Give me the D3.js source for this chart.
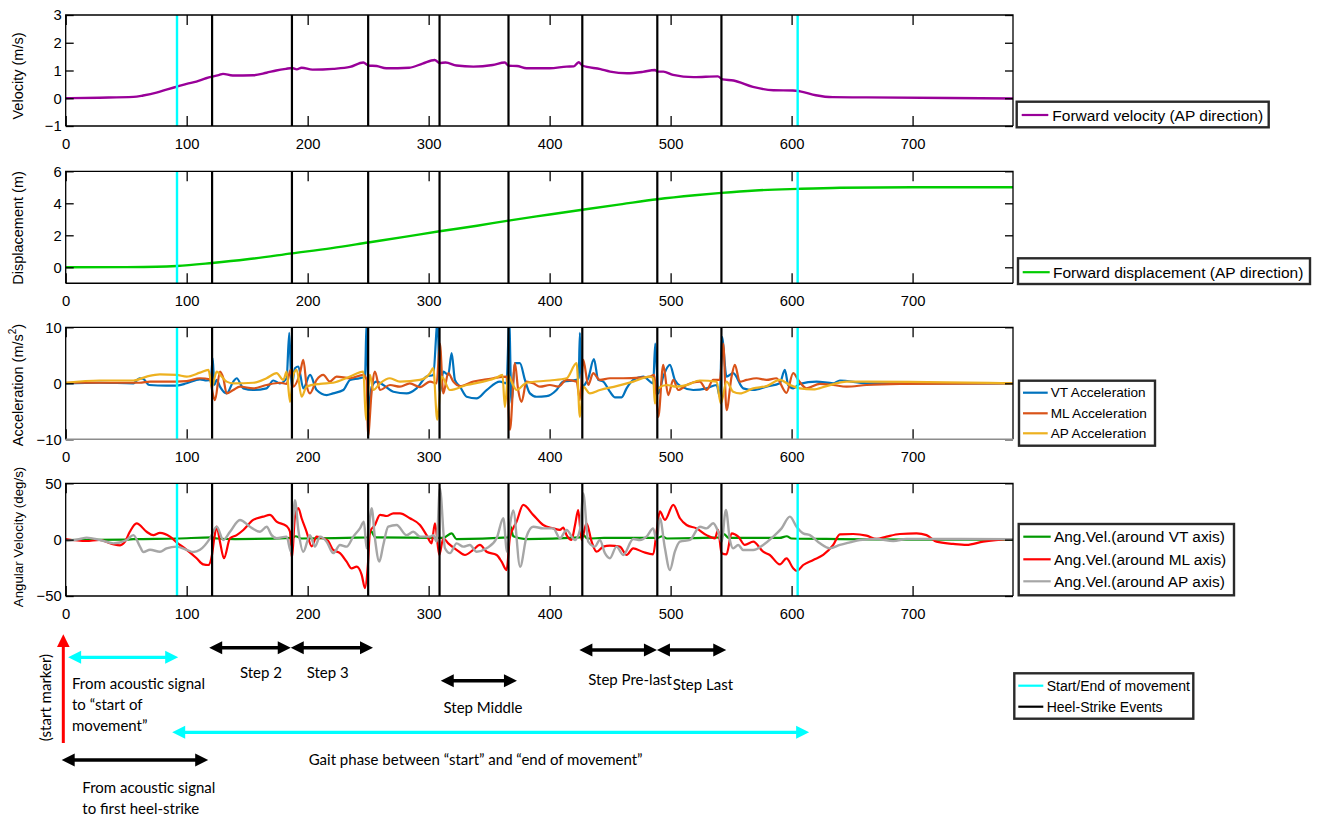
<!DOCTYPE html>
<html><head><meta charset="utf-8">
<script src="https://cdn.jsdelivr.net/npm/d3@7"></script>
<style>
body{margin:0;background:#fff;}
svg{display:block;font-family:"Liberation Sans",Arial,sans-serif;}
</style></head>
<body><svg id="c" width="1319" height="816"></svg>
<script>
// ---------------- DATA ----------------
const xTicks = [0,100,200,300,400,500,600,700];
const xDomain = [0,783];
const startEndEvents = [92,605];
const heelStrikeEvents = [121,187,250,309,366,427,489,542];

const velocityTicks = [-1,0,1,2,3];
const displacementTicks = [0,2,4,6];
const accelerationTicks = [-10,0,10];
const angularTicks = [-50,0,50];

const velocityAP = [[0,0],[28,0.02],[56,0.05],[64,0.1],[75,0.2],[84,0.32],[92,0.42],[100,0.52],[108,0.6],[116,0.72],[121,0.78],[127,0.84],[130,0.88],[138,0.82],[155,0.83],[166,0.92],[174,1.0],[182,1.06],[187,1.09],[191,1.04],[195,1.1],[204,1.03],[221,1.06],[235,1.13],[246,1.29],[250,1.18],[257,1.16],[265,1.08],[284,1.1],[295,1.25],[305,1.38],[309,1.27],[314,1.29],[323,1.18],[337,1.14],[353,1.2],[363,1.29],[366,1.17],[373,1.16],[381,1.08],[400,1.08],[414,1.14],[420,1.15],[424,1.3],[427,1.18],[442,1.05],[450,0.96],[464,0.9],[477,0.95],[487,1.02],[489,0.96],[494,0.96],[502,0.84],[519,0.76],[539,0.79],[543,0.68],[552,0.64],[568,0.41],[585,0.29],[601,0.28],[607,0.25],[620,0.11],[634,0.04],[662,0.03],[783,-0.01]];

const displacementAP = [[0,0],[50,0.01],[75,0.03],[92,0.08],[121,0.27],[150,0.5],[187,0.87],[220,1.2],[250,1.55],[280,1.9],[309,2.25],[340,2.6],[366,2.92],[400,3.3],[427,3.6],[460,3.95],[489,4.25],[520,4.5],[542,4.65],[570,4.8],[605,4.9],[640,4.97],[700,5.0],[783,5.0]];

const accVT = [[0,0],[28,0.1],[56,0],[61,0.9],[64,0.8],[69,-0.3],[83,-0.4],[92,-0.4],[100,0],[111,0.7],[116.5,0.5],[120,0.8],[121.5,4.5],[122.8,-0.3],[124.8,0.6],[127.5,-0.6],[133,-1.8],[138.5,0.3],[141.3,0.9],[146.8,-0.9],[155,-1.2],[166,-0.9],[171.6,0.5],[177,0],[182.6,0.9],[184.8,9],[186.7,-0.6],[189.5,2.7],[192.3,3],[196.4,-0.9],[202,1.5],[207.4,-1.2],[215.7,-2.1],[221,-1.8],[229.5,-1.2],[235,0.6],[243,0.9],[247.4,1.2],[248.7,11],[250.4,-4.8],[252.9,-0.6],[257,0.3],[262.5,-0.3],[270.8,-1.5],[281.8,-1.8],[290,-0.9],[298.3,1.2],[303.8,1.5],[307.4,11],[309.3,-1.8],[312.1,2.1],[316.2,1.5],[319,5.4],[321.7,0.6],[325.9,-0.6],[331.4,-2.4],[339.6,-2.7],[347.9,-1.2],[358.9,0.3],[364.4,0],[366.6,11],[368.5,-3.6],[371.3,3.6],[375.4,3.6],[379.6,0.6],[383.7,-1.8],[389.2,-2.4],[397.5,-2.3],[405.7,-1.2],[411.2,0.3],[422.3,0.6],[424,1],[425,9],[426.4,-0.6],[431.9,0.9],[436.6,4.3],[440.2,0.6],[444.3,0.3],[449.8,-1.5],[453.9,-2.5],[459.5,-2.5],[463.6,-0.9],[469.1,0.6],[477.4,1.2],[485.6,0],[487.3,7.1],[489.8,-1.8],[493.9,1.2],[499.4,3.3],[503.5,0.6],[509,-0.6],[518.7,-1.2],[529.7,-0.9],[538,-0.3],[540.7,-2.4],[542.4,8.3],[546.2,1.2],[551.7,1.8],[560,-0.9],[568.3,-1.2],[579.3,-0.6],[590.3,0],[594.4,2.4],[597.2,-0.3],[601.3,-0.9],[606.8,-0.1],[620.6,0.3],[634.4,0],[639.9,0.5],[661.9,0],[783,0]];

const accML = [[0,0.1],[61,0.1],[69.7,0.3],[83,0.3],[100,0.4],[111,0.9],[119.3,0.7],[121.5,-1.8],[123.4,-3.0],[127.5,2.1],[130.3,0.9],[133,-1.8],[138.5,-1.2],[144,-0.6],[155,-0.9],[166,-0.3],[177,0.1],[182.6,-0.1],[185.9,2.4],[188.1,-0.6],[193.6,1.8],[196.4,4.2],[199.1,-0.3],[201.9,-1.8],[207.4,0.6],[212.9,1.5],[218.4,0.3],[223.9,1.2],[235,0.9],[246,1.5],[248.7,0.6],[249.8,-9.5],[252.9,-1.5],[255.6,2.1],[259.8,-1.2],[268,-0.3],[276.3,-0.6],[284.5,0],[292.8,-0.7],[301.1,0.3],[306.6,0],[309.3,7.1],[312.1,-1.8],[316.2,1.8],[320.4,0.3],[325.9,-0.5],[336.9,0.3],[345.1,0.6],[353.4,0.9],[364.4,1.2],[367.2,-8.3],[371.3,3.6],[374,-1.2],[376.8,-3.3],[380.9,0.3],[386.4,0],[392,-0.6],[400.2,-0.3],[407.1,-0.6],[414,0.6],[422.3,0.3],[425,-3.0],[427.8,4.2],[431.9,-0.3],[436,1.8],[441.5,0.6],[449.8,0.9],[460.8,0.9],[474.6,1.0],[482.9,1.2],[486.5,1.5],[489.8,-6],[493.9,3.3],[498,-2.1],[502.2,0.6],[506.3,-1.2],[513.2,-0.3],[524.2,0.3],[529.7,-1.2],[535.2,0.6],[540.7,0.6],[543.5,7.1],[546.2,-4.8],[550.4,1.2],[553.1,3.3],[557.2,0.3],[562.8,0.6],[571,0.9],[579.3,0.6],[587.5,0.9],[595.8,-1.7],[601.3,1.8],[605.5,0.6],[612.3,-0.9],[623.4,-0.1],[634.4,-0.3],[645.4,-0.6],[661.9,-0.3],[689.5,-0.1],[783,0]];

const accAP = [[0,0.1],[28,0.5],[56,0.5],[66.9,1.2],[77.9,1.6],[91.7,1.5],[100,1.2],[111,1.9],[118,2.4],[120.9,-0.6],[124.8,2.1],[128.9,1.2],[133,0.3],[138.5,0],[155,0.1],[166,0.9],[174.3,1.8],[180,0.6],[182.6,2.1],[185.4,-3.3],[188.1,1.5],[190.9,2.4],[195,-2.4],[199.1,-0.6],[210.2,-0.1],[221,0.1],[235,1.2],[246,2.1],[248.2,-6.5],[251.5,1.5],[254.2,-1.2],[259.8,0],[268,0.9],[276.3,0.3],[292.8,0.6],[301.1,1.8],[303.8,2.7],[307.1,-6.5],[310.7,1.2],[317.6,-1.2],[331.4,-0.3],[345.1,0.3],[356,1.0],[361,1.5],[363,-4.2],[365.8,1.5],[368.5,0.3],[372.7,-1.2],[380.9,0.1],[400.2,0.5],[414,0.9],[422.3,3.6],[425,-6],[427.8,-0.6],[433.3,-1.8],[441.5,-1.2],[455.3,-0.5],[469.1,0.3],[482.9,1.2],[485.6,0.9],[487,-3.6],[489.8,-0.9],[496.6,-0.3],[504.9,-0.6],[513.2,-0.3],[524.2,0.5],[538,0.3],[541.5,-3.6],[546.2,0.3],[551.7,-1.5],[557.2,-1.8],[568.3,-0.9],[579.3,-0.5],[590.3,0.6],[598.6,-0.3],[606.8,-0.9],[617.9,-1.1],[628.9,-0.5],[645.4,0.3],[661.9,0.3],[783,0]];

const angVT = [[0,-0.3],[50,0],[56,0.5],[92,1],[121,2],[125,1],[140,0.5],[187,1.5],[190,3],[195,1],[250,2],[252,8],[256,2],[309,1.5],[313,2],[319,5.6],[323,0.5],[366,2],[367.5,12],[370,3],[380,0.5],[425,2],[428,4],[431,1],[445,1.5],[489,1.5],[493,3],[497,1],[542,2],[544,5],[548,1.5],[590,1.5],[596,3],[600,1],[640,0.5],[700,0],[783,0]];

const angML = [[0,0.6],[17,-1.2],[28,-0.3],[39,-4],[45,-5],[49,-1.8],[53,7],[58.6,14.5],[66.9,7],[72.4,4],[77.9,6],[86.2,2.7],[91.7,-2.4],[100,-9],[108.2,-16.5],[113.7,-22],[117.9,-22.5],[120.9,-13.6],[122.8,1.2],[124.8,11.5],[127.5,-1.8],[130.8,-16.5],[135.8,1.2],[141.3,4],[146.8,8.6],[155,17.5],[163.3,20.4],[168.8,22],[174.3,16],[182.6,12],[185.4,7],[187,-16.5],[189.5,20.4],[192.3,28],[195,19],[199.1,7],[203.3,-6],[207.4,2.7],[212.9,1.2],[217,-1.2],[221,-9],[226.7,-12],[232.2,-19.5],[236.3,-25.5],[240.5,-24],[244.6,-31],[247.4,-43],[249.8,-22],[251.5,7],[255.6,13],[259.8,22],[265.3,21],[270.8,23.4],[276.3,23.4],[284.5,19],[292.8,13],[298.3,4],[302.4,-3.3],[305.2,14.5],[308.8,-13.6],[312.1,1.2],[316.2,-3.3],[323.1,-9],[330,-13.6],[336.9,-9],[342.4,-4.7],[347.9,-10.7],[356.2,-13.6],[360.3,-19.5],[364.4,-27],[367.2,2],[372.7,16],[378.2,30.8],[386.4,22],[394.7,13],[403,10],[408.5,8.6],[411.2,10.7],[414,4],[418,-0.3],[421,13],[423.6,26.3],[426.4,-0.3],[430.5,14.5],[434.7,-1.8],[438.8,-10.7],[444.3,-6.2],[449.8,-5.3],[458,-6.2],[463.6,-13.6],[469,-7.7],[477.4,-11],[485.6,-13],[488.4,7],[491.1,25],[495.3,17.5],[502.2,30.8],[507.7,19],[513.2,13],[521.4,10],[529.7,4],[536.6,1.2],[539.3,8.6],[542.1,-12],[546.2,-13],[550.4,5.6],[555.9,2.7],[561.4,-4.7],[568.3,-1.8],[576.5,-10.7],[582,-13.6],[590.3,-22],[595.8,-16.6],[601.3,-25.4],[604.4,-27.8],[609.6,-22.5],[617.9,-18],[626.1,-13.6],[634.4,-4.7],[639.9,4.7],[650.9,5],[661.9,3.6],[670.2,0.6],[678.5,2.7],[689.5,5],[703.3,5.6],[711.5,4],[719.8,-1.8],[733.5,-3.8],[744.6,-4.7],[758.3,-1.8],[783,0.6]];

const angAP = [[0,-1.2],[11.8,0.6],[17.3,1.8],[28.3,-0.3],[39.4,-3.3],[50.4,-0.3],[55.9,4],[61.4,-6.2],[64.2,-11],[69.7,-9],[77.9,-10.7],[83.4,-7.7],[91.7,-6.2],[100,-9],[105.5,-11],[111,-9],[119.3,1.2],[124.8,11.5],[130.3,-0.3],[135.8,7],[144,17.5],[152.3,11.5],[160.6,7],[166.1,11.5],[170.2,4],[174.3,1.2],[182.6,2.7],[186.2,-10.7],[189.5,35],[192.3,8.6],[196.4,-10.7],[201.9,4],[206,-6.2],[210.2,2.7],[215.7,-1.8],[221.2,-12],[226.7,-4.7],[232.2,-6.2],[237.7,2.7],[243.2,10],[246.5,16],[248.7,-7.7],[252.9,27.8],[255.6,1.2],[259.2,-19.5],[262.5,-4.7],[266.6,11.5],[273.5,13],[281.8,4],[287.3,7],[292.8,2.7],[301.1,2.7],[303.8,4],[306.6,-1.8],[309.3,45.5],[313.5,-7.7],[317.6,-12],[323.1,-3.3],[328.6,-6.2],[334.1,-4.7],[339.6,-10.7],[347.9,-7.7],[356.2,1.2],[361.7,19],[364.8,-10.7],[367.5,15],[369.9,26],[375.6,-24],[380.9,2.7],[386.4,11.5],[394.7,10],[403,10],[408.5,1.2],[414,8.6],[420.9,-0.3],[425,8.6],[427.8,41],[431.9,-1.8],[437.4,-6.2],[441.5,-0.3],[445.7,-12],[449.8,-16.5],[455.3,-6.2],[460.8,-13.6],[469.1,0.6],[474.6,-0.3],[480.1,2.7],[485.6,10],[488.4,-0.3],[491.1,19],[495.3,-7.7],[499.4,-27],[503.5,-10.7],[507.7,-1.8],[515.9,-0.3],[524.2,11.5],[529.7,10],[535.2,14.5],[539.3,7],[542.1,-1.8],[545.7,26.3],[549,-0.3],[551.7,-7.7],[555.9,-4.7],[560,-9.2],[568.3,-9.2],[576.5,-4.7],[584.8,2.7],[591.7,10],[598.6,20.4],[604.1,11.5],[609.6,5.6],[615.1,4],[623.4,-3.3],[631.6,-7.7],[639.9,-4.7],[648.2,-2.4],[656.4,-0.3],[670.2,0.6],[684,-1.2],[695,0.6],[783,0.5]];

// annotation intervals (data units)
const stepArrows = [
  {label:"Step 2", from:118.6, to:186},
  {label:"Step 3", from:186, to:254},
  {label:"Step Middle", from:310, to:373},
  {label:"Step Pre-last", from:424.6, to:488.7},
  {label:"Step Last", from:488.7, to:546}
];
const toStartInterval = [2,93];
const toHeelStrikeInterval = [-3.3,117.8];
const gaitPhaseInterval = [88,614.5];

// ---------------- LAYOUT ----------------
const svg = d3.select("#c");
const defs = svg.append("defs");
const X0 = 65.7, X1 = 1013;
const x = d3.scaleLinear().domain(xDomain).range([X0, X1]);

const panels = [
  {top:15, bottom:126, domain:[-1,3], ticks:velocityTicks, label:"Velocity (m/s)", labelY:76, labelSize:14.5, bottomAxis:"#000",
   series:[{name:"Forward velocity (AP direction)", data:velocityAP, color:"#990099", w:2.4}],
   legend:{x:1016.7,y:101.7,w:252,h:25.6,size:15.5,line:[1021.7,1048.3],tx:1052.3,rows:[115]}},
  {top:171.3, bottom:283.3, domain:[-1,6], ticks:displacementTicks, label:"Displacement (m)", labelY:228, labelSize:14.5, bottomAxis:"#000",
   series:[{name:"Forward displacement (AP direction)", data:displacementAP, color:"#00CC00", w:2.4}],
   legend:{x:1018,y:258.3,w:292,h:25.7,size:15.5,line:[1022.7,1049.7],tx:1053,rows:[272.2]}},
  {top:327.3, bottom:439.3, domain:[-10,10], ticks:accelerationTicks, label:"accel", labelY:385, labelSize:14.5, bottomAxis:"#8c8c8c",
   series:[{name:"VT Acceleration", data:accVT, color:"#0072BD", w:2.2},
           {name:"ML Acceleration", data:accML, color:"#D95319", w:2.2},
           {name:"AP Acceleration", data:accAP, color:"#EDB120", w:2.2}],
   legend:{x:1019,y:380.7,w:136,h:65,size:13.6,line:[1023,1047.7],tx:1050.7,rows:[392.7,413.3,433.3]}},
  {top:483.3, bottom:596, domain:[-50,50], ticks:angularTicks, label:"Angular Velocity (deg/s)", labelY:537, labelSize:13.3, bottomAxis:"#000",
   series:[{name:"Ang.Vel.(around VT axis)", data:angVT, color:"#009900", w:2.2},
           {name:"Ang.Vel.(around ML axis)", data:angML, color:"#FF0000", w:2.2},
           {name:"Ang.Vel.(around AP axis)", data:angAP, color:"#A6A6A6", w:2.4}],
   legend:{x:1018.7,y:524,w:215.3,h:71.3,size:15.4,line:[1023.3,1050.7],tx:1054,rows:[536.7,559.3,581.3]}}
];

const line = (y) => d3.line().x(d=>x(d[0])).y(d=>y(d[1])).curve(d3.curveMonotoneX);

panels.forEach((p,i)=>{
  const y = d3.scaleLinear().domain(p.domain).range([p.bottom,p.top]);
  const cid = "clip"+i;
  defs.append("clipPath").attr("id",cid).append("rect")
    .attr("x",X0).attr("y",p.top).attr("width",X1-X0).attr("height",p.bottom-p.top);
  const g = svg.append("g");
  const pg = g.append("g").attr("clip-path",`url(#${cid})`);
  p.series.forEach(s=>{
    pg.append("path").datum(s.data.slice().sort((a,b)=>a[0]-b[0]))
      .attr("d",line(y)).attr("fill","none").attr("stroke",s.color)
      .attr("stroke-width",s.w).attr("stroke-linejoin","round");
  });
  heelStrikeEvents.forEach(e=>{
    pg.append("line").attr("x1",x(e)).attr("x2",x(e)).attr("y1",p.top).attr("y2",p.bottom)
      .attr("stroke","#000").attr("stroke-width",2.2);
  });
  startEndEvents.forEach(e=>{
    pg.append("line").attr("x1",x(e)).attr("x2",x(e)).attr("y1",p.top).attr("y2",p.bottom)
      .attr("stroke","#00FFFF").attr("stroke-width",2.4);
  });
  // axes
  const fs = "14.8px";
  const ab = g.append("g").attr("transform",`translate(0,${p.bottom})`)
    .call(d3.axisBottom(x).tickValues(xTicks).tickSize(-10).tickPadding(12.3).tickFormat(d3.format("d")));
  const at = g.append("g").attr("transform",`translate(0,${p.top})`)
    .call(d3.axisTop(x).tickValues(xTicks).tickSize(-10).tickFormat(""));
  const al = g.append("g").attr("transform",`translate(${X0},0)`)
    .call(d3.axisLeft(y).tickValues(p.ticks).tickSize(-8).tickPadding(4).tickFormat(d3.format("d")));
  const ar = g.append("g").attr("transform",`translate(${X1},0)`)
    .call(d3.axisRight(y).tickValues(p.ticks).tickSize(-8).tickFormat(""));
  [ab,at,al,ar].forEach(a=>{
    a.select(".domain").remove();
    a.selectAll(".tick line").attr("stroke","#000").attr("stroke-width",1.3);
    a.selectAll(".tick text").attr("font-size",fs).attr("fill","#000")
      .attr("font-family",'"Liberation Sans",Arial,sans-serif');
  });
  // box
  g.append("path").attr("d",`M${X0},${p.bottom}L${X0},${p.top}L${X1},${p.top}L${X1},${p.bottom}`)
    .attr("fill","none").attr("stroke","#000").attr("stroke-width",1.3);
  g.append("line").attr("x1",X0).attr("x2",X1).attr("y1",p.bottom).attr("y2",p.bottom)
    .attr("stroke",p.bottomAxis).attr("stroke-width",1.5);
  // y label
  const t = g.append("text").attr("transform",`translate(18,${p.labelY}) rotate(-90)`)
    .attr("text-anchor","middle").attr("dominant-baseline","central")
    .attr("font-size",p.labelSize+"px").attr("fill","#000");
  if(p.label==="accel"){
    t.append("tspan").text("Acceleration (m/s");
    t.append("tspan").text("2").attr("font-size","10px").attr("dy","-6");
    t.append("tspan").text(")").attr("dy","6");
  } else t.text(p.label);
  // legend
  const L = p.legend;
  const lg = svg.append("g");
  lg.append("rect").attr("x",L.x).attr("y",L.y).attr("width",L.w).attr("height",L.h)
    .attr("fill","#fff").attr("stroke","#2a2a2a").attr("stroke-width",2.4);
  p.series.forEach((s,k)=>{
    lg.append("line").attr("x1",L.line[0]).attr("x2",L.line[1]).attr("y1",L.rows[k]).attr("y2",L.rows[k])
      .attr("stroke",s.color).attr("stroke-width",2.2);
    lg.append("text").attr("x",L.tx).attr("y",L.rows[k]).attr("dominant-baseline","central")
      .attr("font-size",L.size+"px").attr("fill","#000").text(s.name);
  });
});

// event legend
const evLegend = [{name:"Start/End of movement",color:"#00FFFF"},{name:"Heel-Strike Events",color:"#000"}];
const el = svg.append("g");
el.append("rect").attr("x",1014.3).attr("y",673.3).attr("width",179).attr("height",45.4)
  .attr("fill","#fff").attr("stroke","#2a2a2a").attr("stroke-width",2.4);
evLegend.forEach((s,k)=>{
  const yy = [685.7,706.7][k];
  el.append("line").attr("x1",1018.3).attr("x2",1043.3).attr("y1",yy).attr("y2",yy)
    .attr("stroke",s.color).attr("stroke-width",2.2);
  el.append("text").attr("x",1046.7).attr("y",yy).attr("dominant-baseline","central")
    .attr("font-size","14px").attr("fill","#000").text(s.name);
});

// ---------------- ANNOTATIONS ----------------
const ann = svg.append("g").attr("font-family","Lato, 'Open Sans', sans-serif");
function hArrow(x0,x1,yy,color,sw){
  const hl=13, hw=6.5;
  ann.append("line").attr("x1",x0+hl-2).attr("x2",x1-hl+2).attr("y1",yy).attr("y2",yy)
    .attr("stroke",color).attr("stroke-width",sw);
  ann.append("path").attr("d",`M${x0},${yy}L${x0+hl},${yy-hw}L${x0+hl},${yy+hw}Z`).attr("fill",color);
  ann.append("path").attr("d",`M${x1},${yy}L${x1-hl},${yy-hw}L${x1-hl},${yy+hw}Z`).attr("fill",color);
}
const stepY = [647.7,647.7,680.7,650,650];
stepArrows.forEach((s,i)=>hArrow(x(s.from),x(s.to),stepY[i],"#000",3.5));
hArrow(x(toStartInterval[0]),x(toStartInterval[1]),657.3,"#00FFFF",3.2);
hArrow(x(gaitPhaseInterval[0]),x(gaitPhaseInterval[1]),732.3,"#00FFFF",3.2);
hArrow(x(toHeelStrikeInterval[0]),x(toHeelStrikeInterval[1]),760,"#000",3.5);

// red start marker arrow
const sx = x(toHeelStrikeInterval[0])+1.6;
ann.append("line").attr("x1",sx).attr("x2",sx).attr("y1",743).attr("y2",645).attr("stroke","#FF0000").attr("stroke-width",3);
ann.append("path").attr("d",`M${sx},634.3L${sx-6.3},647L${sx+6.3},647Z`).attr("fill","#FF0000");

const annFs = "15px";
function txt(str,xx,yy,anchor){
  ann.append("text").attr("x",xx).attr("y",yy).attr("text-anchor",anchor||"start")
    .attr("dominant-baseline","central").attr("font-size",annFs).attr("fill","#000").text(str);
}
txt("Step 2",261,671.7,"middle");
txt("Step 3",327.7,672,"middle");
txt("Step Middle",483,706.7,"middle");
txt("Step Pre-last",588.3,679);
txt("Step Last",672.7,684.3);
txt("From acoustic signal",72,683.3);
txt("to \u201cstart of",72,704.3);
txt("movement\u201d",72,725);
txt("Gait phase between \u201cstart\u201d and \u201cend of movement\u201d",308.7,759.3);
txt("From acoustic signal",82.3,787.3);
txt("to first heel-strike",82.3,808.3);
ann.append("text").attr("transform","translate(45,697.5) rotate(-90)").attr("text-anchor","middle")
  .attr("dominant-baseline","central").attr("font-size",annFs).attr("fill","#000").text("(start marker)");
</script>
</body></html>
